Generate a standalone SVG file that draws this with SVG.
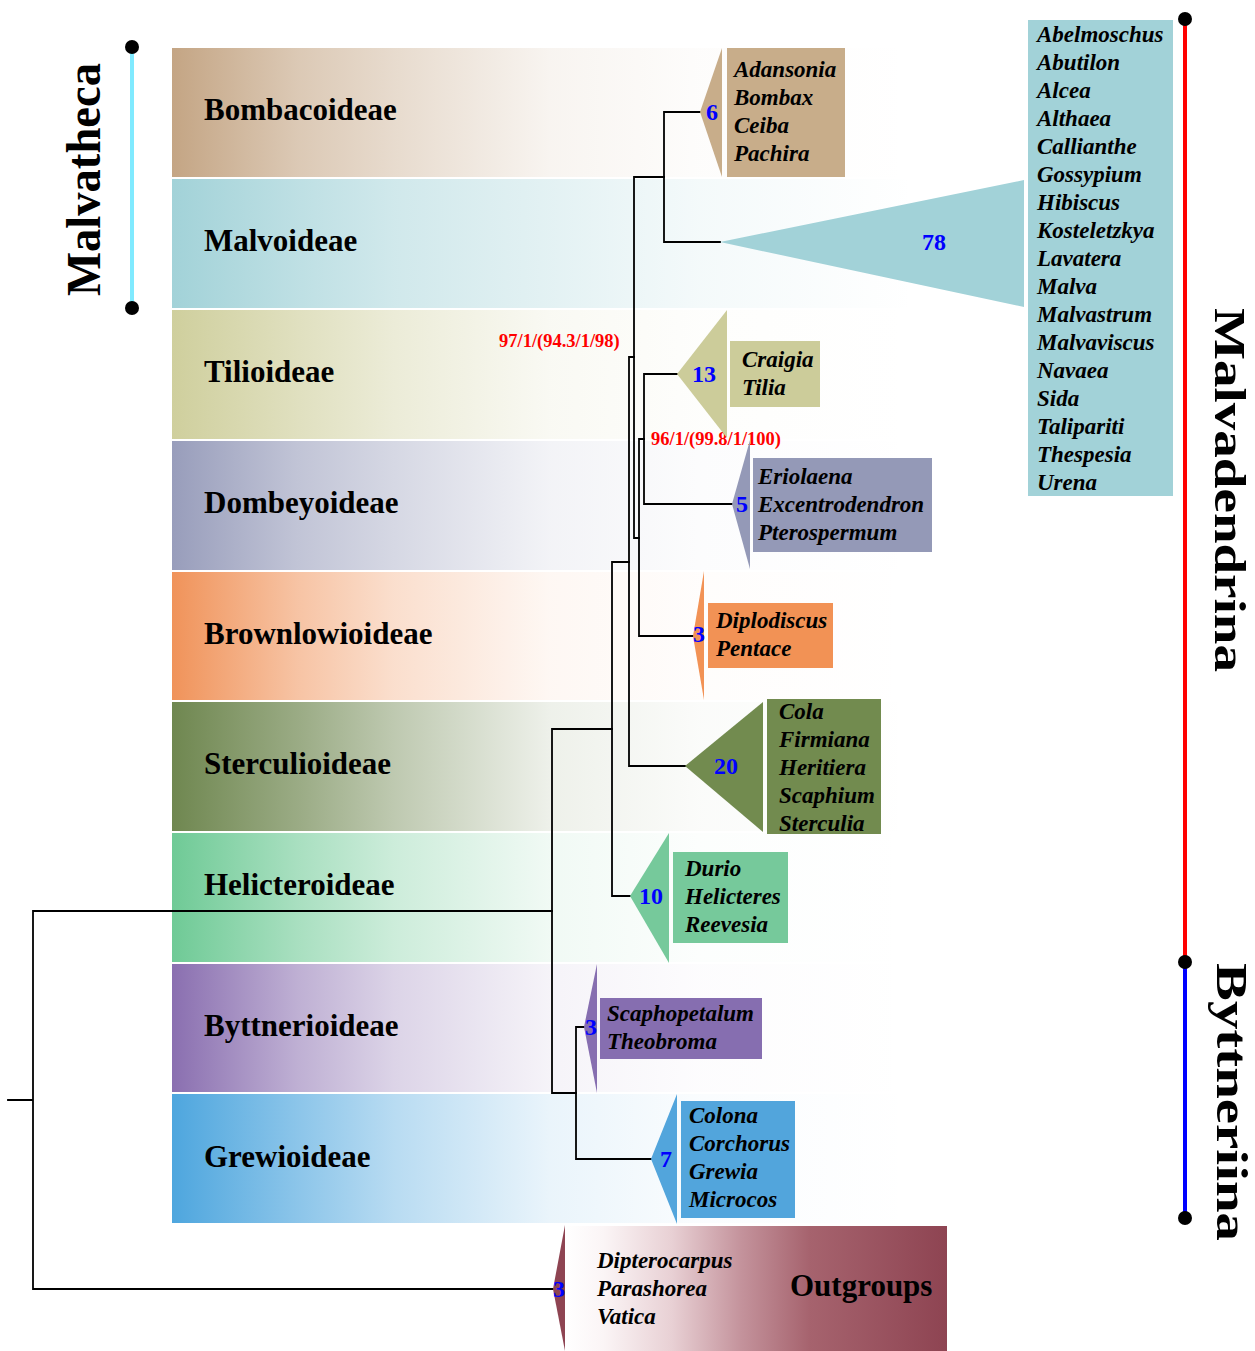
<svg xmlns="http://www.w3.org/2000/svg" width="1255" height="1351" viewBox="0 0 1255 1351">
<style>
text{font-family:"Liberation Serif","Times New Roman",serif;font-weight:bold}
.sub{font-size:31px;fill:#000}
.gen{font-size:23px;font-style:italic;fill:#000}
.num{font-size:24px;fill:#0000ff;text-anchor:middle}
.sup{font-size:18.5px;fill:#ff0000}
.big{fill:#000}
.ln{stroke:#000;stroke-width:1.8;fill:none;stroke-linecap:square}
</style>
<defs>
<linearGradient id="gBomb"><stop offset="0" stop-color="#c4a584"/><stop offset="0.17" stop-color="#c4a584" stop-opacity="0.6"/><stop offset="0.3" stop-color="#c4a584" stop-opacity="0.4"/><stop offset="0.51" stop-color="#c4a584" stop-opacity="0.12"/><stop offset="0.71" stop-color="#c4a584" stop-opacity="0.03"/><stop offset="1" stop-color="#c4a584" stop-opacity="0"/></linearGradient>
<linearGradient id="gMalv"><stop offset="0" stop-color="#a2d2d8"/><stop offset="0.17" stop-color="#a2d2d8" stop-opacity="0.7"/><stop offset="0.3" stop-color="#a2d2d8" stop-opacity="0.5"/><stop offset="0.51" stop-color="#a2d2d8" stop-opacity="0.3"/><stop offset="0.71" stop-color="#a2d2d8" stop-opacity="0.12"/><stop offset="1" stop-color="#a2d2d8" stop-opacity="0"/></linearGradient>
<linearGradient id="gTili"><stop offset="0" stop-color="#cfcf9d"/><stop offset="0.17" stop-color="#cfcf9d" stop-opacity="0.65"/><stop offset="0.3" stop-color="#cfcf9d" stop-opacity="0.4"/><stop offset="0.51" stop-color="#cfcf9d" stop-opacity="0.12"/><stop offset="0.71" stop-color="#cfcf9d" stop-opacity="0.03"/><stop offset="1" stop-color="#cfcf9d" stop-opacity="0"/></linearGradient>
<linearGradient id="gDomb"><stop offset="0" stop-color="#989dbb"/><stop offset="0.17" stop-color="#989dbb" stop-opacity="0.6"/><stop offset="0.3" stop-color="#989dbb" stop-opacity="0.4"/><stop offset="0.51" stop-color="#989dbb" stop-opacity="0.12"/><stop offset="0.71" stop-color="#989dbb" stop-opacity="0.03"/><stop offset="1" stop-color="#989dbb" stop-opacity="0"/></linearGradient>
<linearGradient id="gBrow"><stop offset="0" stop-color="#f0935a"/><stop offset="0.17" stop-color="#f0935a" stop-opacity="0.55"/><stop offset="0.3" stop-color="#f0935a" stop-opacity="0.3"/><stop offset="0.51" stop-color="#f0935a" stop-opacity="0.07"/><stop offset="0.71" stop-color="#f0935a" stop-opacity="0.02"/><stop offset="1" stop-color="#f0935a" stop-opacity="0"/></linearGradient>
<linearGradient id="gSter"><stop offset="0" stop-color="#6f8750"/><stop offset="0.17" stop-color="#6f8750" stop-opacity="0.7"/><stop offset="0.3" stop-color="#6f8750" stop-opacity="0.45"/><stop offset="0.51" stop-color="#6f8750" stop-opacity="0.12"/><stop offset="0.71" stop-color="#6f8750" stop-opacity="0.03"/><stop offset="1" stop-color="#6f8750" stop-opacity="0"/></linearGradient>
<linearGradient id="gHeli"><stop offset="0" stop-color="#6fca96"/><stop offset="0.17" stop-color="#6fca96" stop-opacity="0.6"/><stop offset="0.3" stop-color="#6fca96" stop-opacity="0.35"/><stop offset="0.51" stop-color="#6fca96" stop-opacity="0.1"/><stop offset="0.71" stop-color="#6fca96" stop-opacity="0.02"/><stop offset="1" stop-color="#6fca96" stop-opacity="0"/></linearGradient>
<linearGradient id="gByt"><stop offset="0" stop-color="#8a6fb0"/><stop offset="0.17" stop-color="#8a6fb0" stop-opacity="0.55"/><stop offset="0.3" stop-color="#8a6fb0" stop-opacity="0.3"/><stop offset="0.51" stop-color="#8a6fb0" stop-opacity="0.08"/><stop offset="0.71" stop-color="#8a6fb0" stop-opacity="0.02"/><stop offset="1" stop-color="#8a6fb0" stop-opacity="0"/></linearGradient>
<linearGradient id="gGrew"><stop offset="0" stop-color="#4ea6de"/><stop offset="0.17" stop-color="#4ea6de" stop-opacity="0.65"/><stop offset="0.3" stop-color="#4ea6de" stop-opacity="0.4"/><stop offset="0.51" stop-color="#4ea6de" stop-opacity="0.12"/><stop offset="0.71" stop-color="#4ea6de" stop-opacity="0.03"/><stop offset="1" stop-color="#4ea6de" stop-opacity="0"/></linearGradient>
<linearGradient id="gOut"><stop offset="0" stop-color="#ffffff"/><stop offset="0.1" stop-color="#fbf5f6"/><stop offset="0.28" stop-color="#e8d0d4"/><stop offset="0.46" stop-color="#c4939c"/><stop offset="0.64" stop-color="#a6636e"/><stop offset="1" stop-color="#8e4452"/></linearGradient>
</defs>

<g id="bands">
<rect x="172" y="48" width="740" height="129" fill="url(#gBomb)"/>
<rect x="172" y="179" width="740" height="129" fill="url(#gMalv)"/>
<rect x="172" y="310" width="740" height="129" fill="url(#gTili)"/>
<rect x="172" y="441" width="740" height="129" fill="url(#gDomb)"/>
<rect x="172" y="572" width="740" height="128" fill="url(#gBrow)"/>
<rect x="172" y="702" width="740" height="129" fill="url(#gSter)"/>
<rect x="172" y="833" width="740" height="129" fill="url(#gHeli)"/>
<rect x="172" y="964" width="740" height="128" fill="url(#gByt)"/>
<rect x="172" y="1094" width="740" height="129" fill="url(#gGrew)"/>
</g>

<g id="connectors" class="ln">
<path d="M8,1100H33M33,911V1289M33,911H552M33,1289H553"/>
<path d="M552,729V1093M552,729H612M552,1093H576"/>
<path d="M576,1027V1159M576,1027H585M576,1159H651"/>
<path d="M612,562V896M612,562H629M612,896H630"/>
<path d="M629,357V766M629,357H634M629,766H685"/>
<path d="M634,177V538M634,177H664M634,538H639"/>
<path d="M639,439V636M639,439H644M639,636H694"/>
<path d="M644,374V504M644,374H677M644,504H732"/>
<path d="M664,112V242M664,112H700M664,242H720"/>
</g>

<g id="support-values">
<text class="sup" x="499" y="347">97/1/(94.3/1/98)</text>
<text class="sup" x="651" y="445">96/1/(99.8/1/100)</text>
</g>

<g id="Bombacoideae">
<text class="sub" x="204" y="120">Bombacoideae</text>
<polygon points="700,112 722,48 722,177" fill="#c8ad8a"/>
<rect x="727" y="48" width="118" height="129" fill="#c8ad8a"/>
<text class="num" x="712" y="120">6</text>
<text class="gen" x="734" y="77">Adansonia</text>
<text class="gen" x="734" y="105">Bombax</text>
<text class="gen" x="734" y="133">Ceiba</text>
<text class="gen" x="734" y="161">Pachira</text>
</g>

<g id="Malvoideae">
<text class="sub" x="204" y="251">Malvoideae</text>
<polygon points="720,242 1024,180 1024,307" fill="#a2d2d8"/>
<rect x="1028" y="20" width="145" height="476" fill="#a2d2d8"/>
<text class="num" x="934" y="250">78</text>
<text class="gen" x="1037" y="42">Abelmoschus</text>
<text class="gen" x="1037" y="70">Abutilon</text>
<text class="gen" x="1037" y="98">Alcea</text>
<text class="gen" x="1037" y="126">Althaea</text>
<text class="gen" x="1037" y="154">Callianthe</text>
<text class="gen" x="1037" y="182">Gossypium</text>
<text class="gen" x="1037" y="210">Hibiscus</text>
<text class="gen" x="1037" y="238">Kosteletzkya</text>
<text class="gen" x="1037" y="266">Lavatera</text>
<text class="gen" x="1037" y="294">Malva</text>
<text class="gen" x="1037" y="322">Malvastrum</text>
<text class="gen" x="1037" y="350">Malvaviscus</text>
<text class="gen" x="1037" y="378">Navaea</text>
<text class="gen" x="1037" y="406">Sida</text>
<text class="gen" x="1037" y="434">Talipariti</text>
<text class="gen" x="1037" y="462">Thespesia</text>
<text class="gen" x="1037" y="490">Urena</text>
</g>

<g id="Tilioideae">
<text class="sub" x="204" y="382">Tilioideae</text>
<polygon points="677,374 727,310 727,438" fill="#cccc9a"/>
<rect x="730" y="341" width="90" height="66" fill="#cccc9a"/>
<text class="num" x="704" y="382">13</text>
<text class="gen" x="742" y="367">Craigia</text>
<text class="gen" x="742" y="395">Tilia</text>
</g>

<g id="Dombeyoideae">
<text class="sub" x="204" y="513">Dombeyoideae</text>
<polygon points="732,504 750,440 750,569" fill="#9499b7"/>
<rect x="753" y="458" width="179" height="94" fill="#9499b7"/>
<text class="num" x="742" y="512">5</text>
<text class="gen" x="758" y="484">Eriolaena</text>
<text class="gen" x="758" y="512">Excentrodendron</text>
<text class="gen" x="758" y="540">Pterospermum</text>
</g>

<g id="Brownlowioideae">
<text class="sub" x="204" y="644">Brownlowioideae</text>
<polygon points="693,636 704,571 704,700" fill="#f29255"/>
<rect x="708" y="603" width="125" height="65" fill="#f29255"/>
<text class="num" x="699" y="642">3</text>
<text class="gen" x="716" y="628">Diplodiscus</text>
<text class="gen" x="716" y="656">Pentace</text>
</g>

<g id="Sterculioideae">
<text class="sub" x="204" y="774">Sterculioideae</text>
<polygon points="685,766 763,702 763,832" fill="#728b4f"/>
<rect x="767" y="699" width="114" height="135" fill="#728b4f"/>
<text class="num" x="726" y="774">20</text>
<text class="gen" x="779" y="719">Cola</text>
<text class="gen" x="779" y="747">Firmiana</text>
<text class="gen" x="779" y="775">Heritiera</text>
<text class="gen" x="779" y="803">Scaphium</text>
<text class="gen" x="779" y="831">Sterculia</text>
</g>

<g id="Helicteroideae">
<text class="sub" x="204" y="895">Helicteroideae</text>
<polygon points="630,896 669,833 669,963" fill="#76c99b"/>
<rect x="673" y="852" width="115" height="91" fill="#76c99b"/>
<text class="num" x="651" y="904">10</text>
<text class="gen" x="685" y="876">Durio</text>
<text class="gen" x="685" y="904">Helicteres</text>
<text class="gen" x="685" y="932">Reevesia</text>
</g>

<g id="Byttnerioideae">
<text class="sub" x="204" y="1036">Byttnerioideae</text>
<polygon points="584,1027 597,964 597,1093" fill="#866eb0"/>
<rect x="600" y="998" width="162" height="61" fill="#866eb0"/>
<text class="num" x="591" y="1035">3</text>
<text class="gen" x="607" y="1021">Scaphopetalum</text>
<text class="gen" x="607" y="1049">Theobroma</text>
</g>

<g id="Grewioideae">
<text class="sub" x="204" y="1167">Grewioideae</text>
<polygon points="651,1159 677,1094 677,1224" fill="#52a5dc"/>
<rect x="681" y="1101" width="114" height="117" fill="#52a5dc"/>
<text class="num" x="666" y="1167">7</text>
<text class="gen" x="689" y="1123">Colona</text>
<text class="gen" x="689" y="1151">Corchorus</text>
<text class="gen" x="689" y="1179">Grewia</text>
<text class="gen" x="689" y="1207">Microcos</text>
</g>

<g id="Outgroups">
<polygon points="553,1289 565,1225 565,1351" fill="#8e4452"/>
<rect x="565" y="1226" width="382" height="125" fill="url(#gOut)"/>
<text class="num" x="559" y="1297">3</text>
<text class="gen" x="597" y="1268">Dipterocarpus</text>
<text class="gen" x="597" y="1296">Parashorea</text>
<text class="gen" x="597" y="1324">Vatica</text>
<text class="sub" x="790" y="1296">Outgroups</text>
</g>

<g id="Malvatheca">
<line x1="132" y1="47" x2="132" y2="308" stroke="#80eaff" stroke-width="4"/>
<circle cx="132" cy="47" r="7" fill="#000"/>
<circle cx="132" cy="308" r="7" fill="#000"/>
<text class="big" font-size="48" transform="translate(100,296) rotate(-90)" textLength="233" lengthAdjust="spacingAndGlyphs">Malvatheca</text>
</g>

<g id="Malvadendrina">
<line x1="1185" y1="19" x2="1185" y2="962" stroke="#ff0000" stroke-width="4"/>
<circle cx="1185" cy="19" r="7" fill="#000"/>
<text class="big" font-size="45" transform="translate(1215,308) rotate(90)" textLength="364" lengthAdjust="spacingAndGlyphs">Malvadendrina</text>
</g>

<g id="Byttneriina">
<line x1="1185" y1="962" x2="1185" y2="1218" stroke="#0000ff" stroke-width="4"/>
<circle cx="1185" cy="962" r="7" fill="#000"/>
<circle cx="1185" cy="1218" r="7" fill="#000"/>
<text class="big" font-size="44" transform="translate(1217,963) rotate(90)" textLength="278" lengthAdjust="spacingAndGlyphs">Byttneriina</text>
</g>
</svg>
